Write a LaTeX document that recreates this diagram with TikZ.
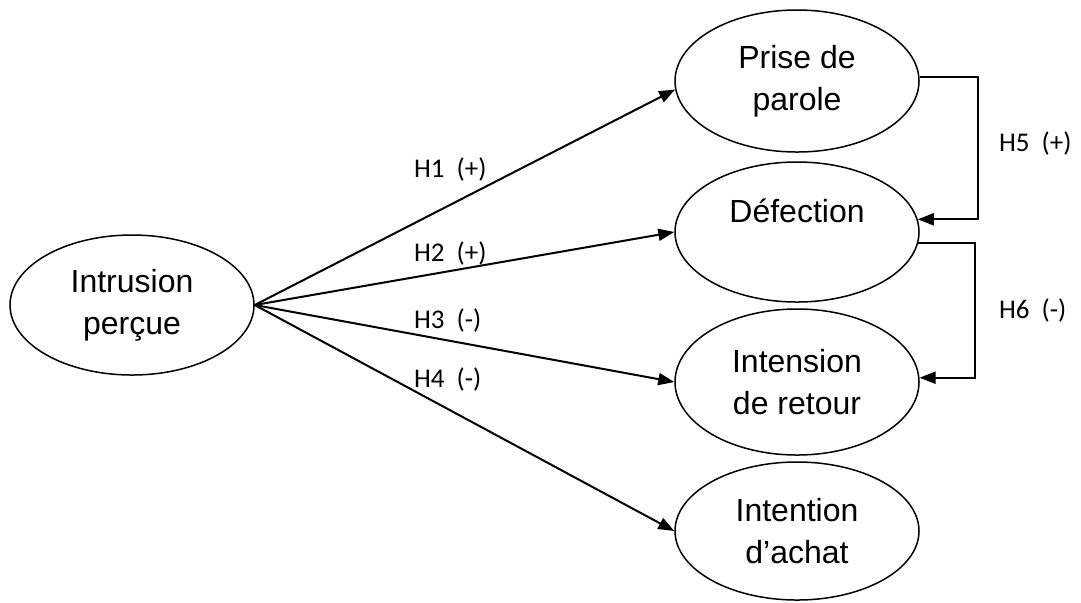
\documentclass[tikz,border=0pt]{standalone}
\usepackage{fontspec}
\setmainfont{Liberation Sans}
\newfontfamily\hypfont{Carlito}
\usetikzlibrary{shapes.geometric,arrows.meta}

\tikzset{
  construct/.style={ellipse,draw,line width=0.75pt,minimum width=122pt,minimum height=70pt,
    inner sep=0pt,align=center,font=\fontsize{16}{21}\selectfont},
  hyp/.style={anchor=west,inner sep=0pt,font=\hypfont\fontsize{13.5}{16}\selectfont}
}

\begin{document}
\begin{tikzpicture}[x=0.5pt,y=-0.5pt,->,>={Triangle[length=8pt,width=6pt]},line width=1pt]
\useasboundingbox (0,0) rectangle (1081,602);

\node[construct,minimum height=71pt] (prise) at (797,81) {Prise de\\parole};
\node[construct] (defect) at (797,232) {Défection\\\mbox{}};
\node[construct,minimum height=73pt] (retour) at (797,382) {Intension\\de retour};
\node[construct,minimum height=69pt] (achat) at (797,531) {Intention\\d’achat};
\node[construct] (intr) at (132,305) {Intrusion\\perçue};

\node[hyp] (h1) at (413,169) {H1\ \ (+)};
\node[hyp] (h2) at (413,253) {H2\ \ (+)};
\node[hyp] (h3) at (413,320) {H3\ \ (-)};
\node[hyp] (h4) at (413,379) {H4\ \ (-)};
\node[hyp] (h5) at (998,143) {H5\ \ (+)};
\node[hyp] (h6) at (998,310) {H6\ \ (-)};

\path[->] (intr.east) edge (prise.184);
\path[->] (intr.east) edge (defect.west);
\path[->] (intr.east) edge (retour.west);
\path[->] (intr.east) edge (achat.west);

\draw[->] (prise.2) -- ++(58,0) |- (defect.6);
\draw[->] (defect.-5) -- ++(57,0) |- (retour.2);
\end{tikzpicture}
\end{document}
